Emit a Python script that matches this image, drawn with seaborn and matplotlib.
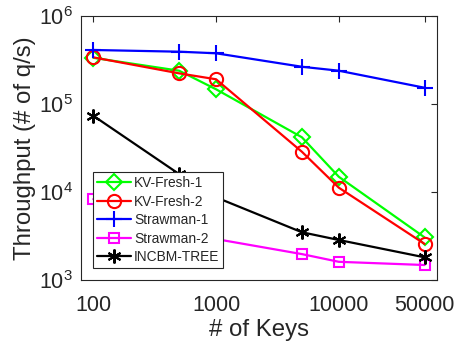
import matplotlib
matplotlib.use("Agg")
import matplotlib.pyplot as plt
import seaborn as sns
import pandas as pd
from matplotlib.ticker import FixedLocator, FixedFormatter, NullLocator

# Number of keys on the x axis
keys = [100, 500, 1000, 5000, 10000, 50000]

# Throughput (queries per second) of each scheme
kv_fresh_1 = [335000, 239000, 147000, 41900, 14900, 3050]
kv_fresh_2 = [339000, 223000, 191000, 28700, 11200, 2570]
strawman_1 = [411000, 393000, 377000, 265000, 239000, 153000]
strawman_2 = [8300, 4300, 2920, 1970, 1610, 1480]
incbm_tree = [73600, 16000, 8700, 3490, 2850, 1810]

x_ticks = [100, 1000, 10000, 50000]
x_tick_labels = ["100", "1000", "10000", "50000"]
y_ticks = [1e3, 1e4, 1e5, 1e6]

sns.set_style("white")
plt.rcParams["font.family"] = ["Liberation Sans", "DejaVu Sans"]
plt.rcParams["mathtext.fontset"] = "custom"
plt.rcParams["mathtext.rm"] = "Liberation Sans"

edge = (0.15, 0.15, 0.15)

fig = plt.figure(figsize=(4.56, 3.52), dpi=100)
ax = fig.add_axes([81 / 456, 1 - 280 / 352, 356 / 456, 264 / 352])

series = [
    ("KV-Fresh-1", kv_fresh_1, (0, 1, 0), "D", 8),
    ("KV-Fresh-2", kv_fresh_2, (1, 0, 0), "o", 9.5),
    ("Strawman-1", strawman_1, (0, 0, 1), "+", 11),
    ("Strawman-2", strawman_2, (1, 0, 1), "s", 7),
    ("INCBM-TREE", incbm_tree, (0, 0, 0), (6, 2, 0), 10),
]

for name, vals, color, marker, ms in series:
    df = pd.DataFrame({"keys": keys, "tput": vals})
    sns.lineplot(
        data=df, x="keys", y="tput", ax=ax, color=color, label=name,
        marker=marker, markersize=ms, markerfacecolor="none",
        markeredgecolor=color, markeredgewidth=1.5, linewidth=1.6,
    )

ax.set_xscale("log")
ax.set_yscale("log")
ax.set_xlim(10 ** 1.9, 10 ** 4.8)
ax.set_ylim(1e3, 1e6)

ax.xaxis.set_major_locator(FixedLocator(x_ticks))
ax.xaxis.set_major_formatter(FixedFormatter(x_tick_labels))
ax.xaxis.set_minor_locator(NullLocator())
ax.yaxis.set_major_locator(FixedLocator(y_ticks))
ax.yaxis.set_minor_locator(NullLocator())

ax.tick_params(axis="both", which="major", direction="in", length=4, width=0.8,
               top=True, right=True, labelsize=15.5, colors=edge)
ax.tick_params(axis="x", pad=11)
ax.tick_params(axis="y", pad=6)
for s in ax.spines.values():
    s.set_color(edge)
    s.set_linewidth(0.8)

ax.set_xlabel("# of Keys", fontsize=17.3, color=edge, labelpad=2)
ax.set_ylabel("Throughput (# of q/s)", fontsize=17.3, color=edge, labelpad=2)

leg = ax.legend(loc="lower left", bbox_to_anchor=(0.033, 0.044), borderaxespad=0,
                fontsize=9.9, frameon=True, fancybox=False, edgecolor=edge,
                handlelength=2.45, handletextpad=0.25, labelspacing=0.33,
                borderpad=0.3)
leg.get_frame().set_linewidth(0.8)
leg.get_frame().set_alpha(1)

fig.savefig("out.png", dpi=100)
